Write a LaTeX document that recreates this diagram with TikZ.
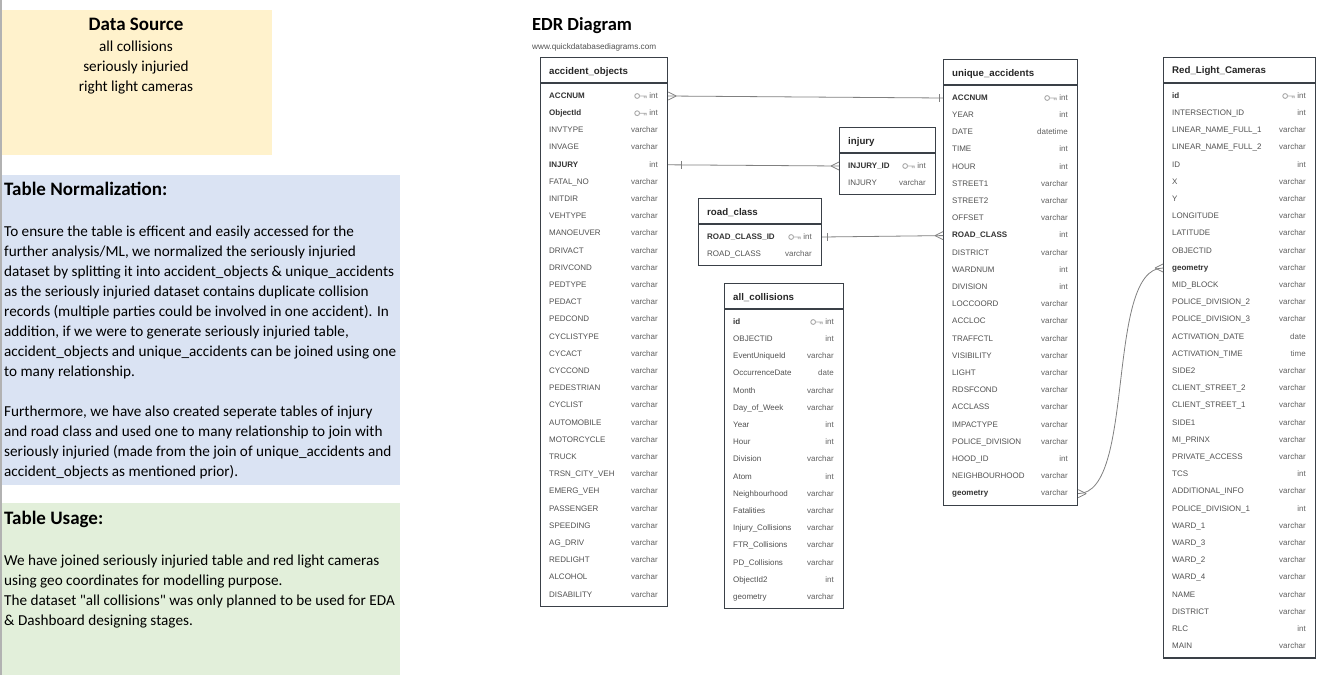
\documentclass[tikz,border=0pt]{standalone}
\usepackage{fontspec}
\newfontfamily\calibri{Carlito}
\newfontfamily\arial{Liberation Sans}

\definecolor{dsyellow}{HTML}{FFF2CC}
\definecolor{normblue}{HTML}{DAE3F3}
\definecolor{usegreen}{HTML}{E2EFDA}
\definecolor{tabedge}{HTML}{3A4047}
\definecolor{fieldgray}{HTML}{505050}
\definecolor{typegray}{HTML}{606060}
\definecolor{keygray}{HTML}{A8A8A8}
\definecolor{linkgray}{HTML}{808080}

\tikzset{
  paneltitle/.style={font=\calibri\bfseries\fontsize{19}{22}\selectfont, inner sep=0},
  paneltext/.style={font=\calibri\fontsize{15.2}{20}\selectfont, inner sep=0, align=left},
  ttitle/.style={font=\arial\bfseries\fontsize{9.7}{11}\selectfont, text=black!85, inner sep=0},
  fn/.style={font=\arial\fontsize{8}{10}\selectfont, text=fieldgray, inner sep=0,
    text height=6pt, text depth=1.5pt},
  fb/.style={fn, font=\arial\bfseries\fontsize{8}{10}\selectfont, text=black!80},
  ftype/.style={fn, text=typegray},
  tabbox/.style={draw=tabedge, line width=1.2pt, inner sep=0},
  link/.style={draw=linkgray, line width=0.8pt},
  crowfoot/.pic={\draw[link] (-8,0) -- (0,-4) (-8,0) -- (0,4);},
  onebar/.pic={\draw[link] (0,-4) -- (0,4);},
  pkey/.pic={\draw[keygray, line width=0.9pt] (-10.5,0) circle (2.4)
    (-8.1,0) -- (-1,0) (-3.4,0) -- (-3.4,2.2) (-1.5,0) -- (-1.5,2.2);}
}

% table: id, left x, top y, width, rows, title, fields
\newcommand{\erdtable}[7]{%
  \node[tabbox, anchor=north west, minimum width=#4,
    minimum height={50+(#5-1)*17.2}] (#1) at (#2,#3) {};
  \draw[draw=tabedge, line width=1.2pt] ([yshift=-26pt]#1.north west) -- ([yshift=-26pt]#1.north east);
  \node[ttitle, anchor=west] (#1-h) at (#2+9,#3+14.5) {#6};
  \foreach \f/\t/\s [count=\i] in {#7} {
    \node[\s, anchor=west] (#1-\i) at (#2+9,#3+39+17.2*\i-17.2) {\f};
    \node[ftype, anchor=east] (#1-\i-t) at (#2+#4-9,#3+39+17.2*\i-17.2) {\t};
  }%
}

\begin{document}
\begin{tikzpicture}[x=1pt,y=-1pt]
  \useasboundingbox (0,0) rectangle (1330,675);

  % notes on the left
  \fill[dsyellow] (0,10) rectangle (272,155);
  \fill[normblue] (0,175) rectangle (400,485);
  \fill[usegreen] (0,503) rectangle (400,675);
  \draw[gray!60, line width=1.5pt] (0.75,0) -- (0.75,675);

  \node[paneltitle, anchor=base] (dstitle) at (136,30.5) {Data Source};
  \node[paneltext, anchor=north, align=center] (dslist) at (136,40.7)
    {all collisions\\seriously injuried\\right light cameras};

  \node[paneltitle, anchor=base west] (normtitle) at (4,195) {Table Normalization:};
  \node[paneltext, anchor=north west] (normtext) at (4,225.7)
    {To ensure the table is efficent and easily accessed for the\\
     further analysis/ML, we normalized the seriously injuried\\
     dataset by splitting it into accident\_objects \& unique\_accidents\\
     as the seriously injuried dataset contains duplicate collision\\
     records (multiple parties could be involved in one accident). In\\
     addition, if we were to generate seriously injuried table,\\
     accident\_objects and unique\_accidents can be joined using one\\
     to many relationship.};
  \node[paneltext, anchor=north west] (normmore) at (4,405.7)
    {Furthermore, we have also created seperate tables of injury\\
     and road class and used one to many relationship to join with\\
     seriously injuried (made from the join of unique\_accidents and\\
     accident\_objects as mentioned prior).};

  \node[paneltitle, anchor=base west] (usetitle) at (4,524.5) {Table Usage:};
  \node[paneltext, anchor=north west] (usetext) at (4,554.7)
    {We have joined seriously injuried table and red light cameras\\
     using geo coordinates for modelling purpose.\\
     The dataset "all collisions" was only planned to be used for EDA\\
     \& Dashboard designing stages.};

  % diagram
  \node[font=\calibri\bfseries\fontsize{18.5}{21}\selectfont, inner sep=0, anchor=base west]
    (edrtitle) at (532,30) {EDR Diagram};
  \node[font=\arial\fontsize{8.2}{9}\selectfont, text=fieldgray, inner sep=0, anchor=west]
    (qdburl) at (532,47.5) {www.quickdatabasediagrams.com};

  \erdtable{ao}{540}{57}{127}{30}{accident\_objects}{
    ACCNUM/int/fb, ObjectId/int/fb, INVTYPE/varchar/fn, INVAGE/varchar/fn,
    INJURY/int/fb, FATAL\_NO/varchar/fn, INITDIR/varchar/fn, VEHTYPE/varchar/fn,
    MANOEUVER/varchar/fn, DRIVACT/varchar/fn, DRIVCOND/varchar/fn, PEDTYPE/varchar/fn,
    PEDACT/varchar/fn, PEDCOND/varchar/fn, CYCLISTYPE/varchar/fn, CYCACT/varchar/fn,
    CYCCOND/varchar/fn, PEDESTRIAN/varchar/fn, CYCLIST/varchar/fn, AUTOMOBILE/varchar/fn,
    MOTORCYCLE/varchar/fn, TRUCK/varchar/fn, TRSN\_CITY\_VEH/varchar/fn, EMERG\_VEH/varchar/fn,
    PASSENGER/varchar/fn, SPEEDING/varchar/fn, AG\_DRIV/varchar/fn, REDLIGHT/varchar/fn,
    ALCOHOL/varchar/fn, DISABILITY/varchar/fn}

  \erdtable{ua}{943}{59}{134}{24}{unique\_accidents}{
    ACCNUM/int/fb, YEAR/int/fn, DATE/datetime/fn, TIME/int/fn, HOUR/int/fn,
    STREET1/varchar/fn, STREET2/varchar/fn, OFFSET/varchar/fn, ROAD\_CLASS/int/fb,
    DISTRICT/varchar/fn, WARDNUM/int/fn, DIVISION/int/fn, LOCCOORD/varchar/fn,
    ACCLOC/varchar/fn, TRAFFCTL/varchar/fn, VISIBILITY/varchar/fn, LIGHT/varchar/fn,
    RDSFCOND/varchar/fn, ACCLASS/varchar/fn, IMPACTYPE/varchar/fn,
    POLICE\_DIVISION/varchar/fn, HOOD\_ID/int/fn, NEIGHBOURHOOD/varchar/fn,
    geometry/varchar/fb}

  \erdtable{inj}{839}{127}{96}{2}{injury}{
    INJURY\_ID/int/fb, INJURY/varchar/fn}

  \erdtable{rc}{698}{198}{123}{2}{road\_class}{
    ROAD\_CLASS\_ID/int/fb, ROAD\_CLASS/varchar/fn}

  \erdtable{ac}{724}{283}{119}{17}{all\_collisions}{
    id/int/fb, OBJECTID/int/fn, EventUniqueId/varchar/fn, OccurrenceDate/date/fn,
    Month/varchar/fn, Day\_of\_Week/varchar/fn, Year/int/fn, Hour/int/fn,
    Division/varchar/fn, Atom/int/fn, Neighbourhood/varchar/fn, Fatalities/varchar/fn,
    Injury\_Collisions/varchar/fn, FTR\_Collisions/varchar/fn, PD\_Collisions/varchar/fn,
    ObjectId2/int/fn, geometry/varchar/fn}

  \erdtable{rlc}{1163}{57}{152}{33}{Red\_Light\_Cameras}{
    id/int/fb, INTERSECTION\_ID/int/fn, LINEAR\_NAME\_FULL\_1/varchar/fn,
    LINEAR\_NAME\_FULL\_2/varchar/fn, ID/int/fn, X/varchar/fn, Y/varchar/fn,
    LONGITUDE/varchar/fn, LATITUDE/varchar/fn, OBJECTID/varchar/fn, geometry/varchar/fb,
    MID\_BLOCK/varchar/fn, POLICE\_DIVISION\_2/varchar/fn, POLICE\_DIVISION\_3/varchar/fn,
    ACTIVATION\_DATE/date/fn, ACTIVATION\_TIME/time/fn, SIDE2/varchar/fn,
    CLIENT\_STREET\_2/varchar/fn, CLIENT\_STREET\_1/varchar/fn, SIDE1/varchar/fn,
    MI\_PRINX/varchar/fn, PRIVATE\_ACCESS/varchar/fn, TCS/int/fn,
    ADDITIONAL\_INFO/varchar/fn, POLICE\_DIVISION\_1/int/fn, WARD\_1/varchar/fn,
    WARD\_3/varchar/fn, WARD\_2/varchar/fn, WARD\_4/varchar/fn, NAME/varchar/fn,
    DISTRICT/varchar/fn, RLC/int/fn, MAIN/varchar/fn}

  % primary keys
  \foreach \k in {ao-1, ao-2, ua-1, inj-1, rc-1, ac-1, rlc-1}
    \pic at ([xshift=-1.5pt]\k-t.west) {pkey};

  % relationships
  \draw[link] (ao-1 -| ao.east) -- (ua-1 -| ua.west);
  \pic[rotate=180] at (ao-1 -| ao.east) {crowfoot};
  \pic at ([xshift=-4pt]ua-1 -| ua.west) {onebar};

  \draw[link] (ao-5 -| ao.east) -- (inj-1 -| inj.west);
  \pic at ([xshift=13pt]ao-5 -| ao.east) {onebar};
  \pic at (inj-1 -| inj.west) {crowfoot};

  \draw[link] (rc-1 -| rc.east) -- (ua-9 -| ua.west);
  \pic at ([xshift=5pt]rc-1 -| rc.east) {onebar};
  \pic at (ua-9 -| ua.west) {crowfoot};

  \draw[link] (ua-24 -| ua.east) .. controls +(58,0) and +(-58,0) .. (rlc-11 -| rlc.west);
  \pic[rotate=180] at (ua-24 -| ua.east) {crowfoot};
  \pic at (rlc-11 -| rlc.west) {crowfoot};
\end{tikzpicture}
\end{document}
